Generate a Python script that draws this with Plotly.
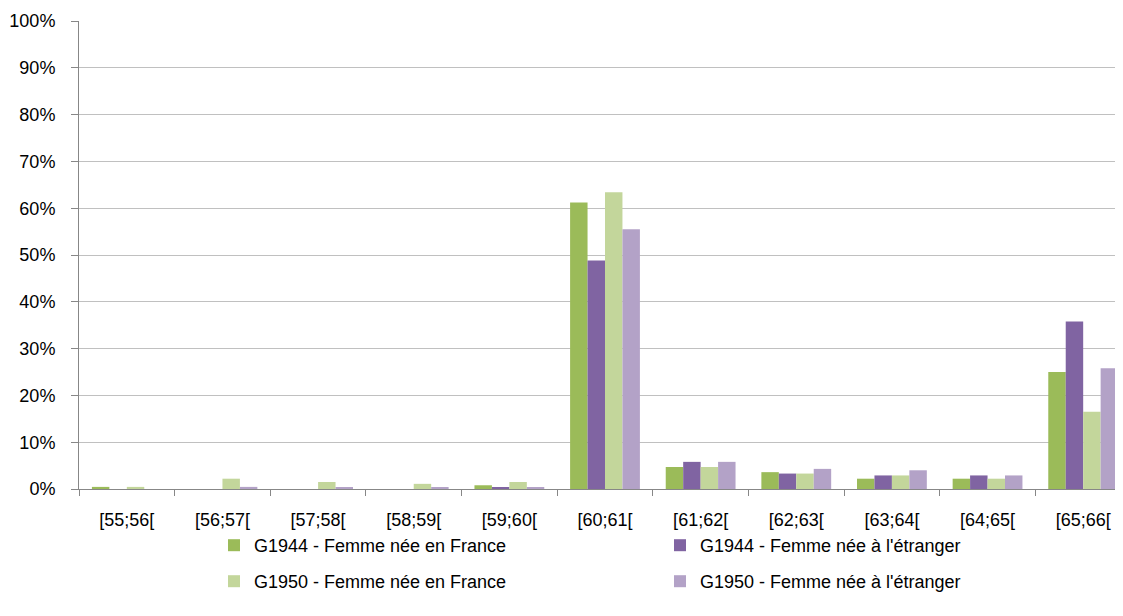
import plotly.graph_objects as go

categories = ["[55;56[", "[56;57[", "[57;58[", "[58;59[", "[59;60[", "[60;61[",
              "[61;62[", "[62;63[", "[63;64[", "[64;65[", "[65;66["]

g1944_france = [0.45, 0.0, 0.0, 0.0, 0.8, 61.2, 4.7, 3.6, 2.2, 2.2, 25.0]
g1944_etranger = [0.0, 0.0, 0.0, 0.0, 0.4, 48.8, 5.8, 3.3, 2.9, 2.9, 35.8]
g1950_france = [0.45, 2.2, 1.5, 1.1, 1.5, 63.4, 4.7, 3.3, 2.9, 2.2, 16.5]
g1950_etranger = [0.0, 0.45, 0.4, 0.4, 0.4, 55.5, 5.8, 4.3, 4.0, 2.9, 25.8]

series_names = ["G1944 - Femme née en France", "G1944 - Femme née à l'étranger",
                "G1950 - Femme née en France", "G1950 - Femme née à l'étranger"]
series_values = [g1944_france, g1944_etranger, g1950_france, g1950_etranger]
series_colors = ["#9BBB59", "#8064A2", "#C3D69B", "#B3A2C7"]
series_legend = ["legend", "legend", "legend2", "legend2"]

y_ticks = list(range(0, 101, 10))
y_tick_labels = [f"{v}%" for v in y_ticks]

FONT = "Liberation Sans"
FS = 18

fig = go.Figure()
for name, vals, col, lg in zip(series_names, series_values, series_colors, series_legend):
    fig.add_trace(go.Bar(x=categories, y=vals, name=name, legend=lg,
                         marker=dict(color=col, line=dict(width=0))))

legend_common = dict(orientation="h", xref="container", yref="container",
                     xanchor="left", yanchor="top",
                     entrywidth=401, entrywidthmode="pixels",
                     font=dict(family=FONT, size=FS, color="#000000"),
                     itemwidth=30, traceorder="normal", bgcolor="rgba(0,0,0,0)")

fig.update_layout(
    width=1123, height=616,
    paper_bgcolor="white", plot_bgcolor="white",
    margin=dict(l=71, r=0, t=13, b=135, autoexpand=False),
    barmode="group", bargap=0.27, bargroupgap=0,
    font=dict(family=FONT, size=FS, color="#000000"),
    showlegend=True,
    legend=dict(x=206 / 1123, y=1 - 519 / 616, **legend_common),
    legend2=dict(x=206 / 1123, y=1 - 555 / 616, **legend_common),
)

fig.update_xaxes(
    type="category", range=[-0.5, 10.5],
    showline=True, linecolor="#878787", linewidth=1,
    ticks="outside", tickson="boundaries", ticklen=6, tickcolor="#878787",
    showgrid=False, tickfont=dict(family=FONT, size=FS), ticklabelstandoff=14,
)
fig.update_yaxes(
    range=[0, 100], tickvals=y_ticks, ticktext=y_tick_labels,
    showline=True, linecolor="#878787", linewidth=1,
    ticks="outside", ticklen=7, tickcolor="#878787",
    showgrid=True, gridcolor="#C0C0C0", gridwidth=1,
    zeroline=False, tickfont=dict(family=FONT, size=FS), ticklabelstandoff=12,
)

fig.write_html("out.html")
